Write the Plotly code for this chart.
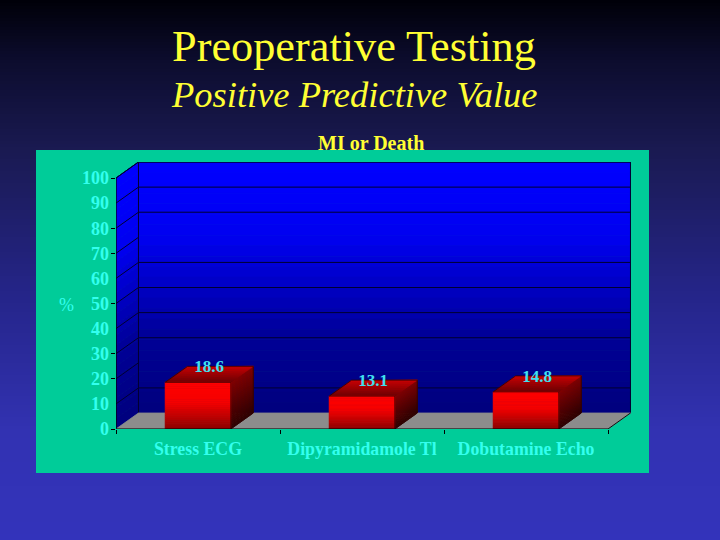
import plotly.graph_objects as go

categories = ["Stress ECG", "Dipyramidamole Tl", "Dobutamine Echo"]
values = [18.6, 13.1, 14.8]
y_ticks = [0, 10, 20, 30, 40, 50, 60, 70, 80, 90, 100]
y_tick_marks = [0, 20, 30, 50, 70, 80, 100]
back_grid = [10, 30, 40, 50, 60, 80, 90, 100]
side_grid = [10, 20, 30, 40, 50, 60, 70, 80, 90, 100]

# plot area in pixels
L, T, W, H = 116, 162, 515, 267
DX = 0.137   # depth in category units
DY = 6.37    # depth in y units
BAR_W = 0.4
SLICES = 24


def mix(stops, t):
    for (t0, c0), (t1, c1) in zip(stops, stops[1:]):
        if t <= t1:
            f = (t - t0) / (t1 - t0)
            r = [round(a + (b - a) * f) for a, b in zip(c0, c1)]
            return f"rgb({r[0]},{r[1]},{r[2]})"
    return "rgb(%d,%d,%d)" % tuple(stops[-1][1])


def px(x):
    return (x - L) / W


def py(y):
    return (T + H - y) / H


fig = go.Figure()


def poly(xs, ys, color):
    fig.add_trace(go.Scatter(x=xs + xs[:1], y=ys + ys[:1], mode="lines", fill="toself",
                             fillcolor=color, line=dict(color=color, width=0.8),
                             hoverinfo="skip", showlegend=False, cliponaxis=False))


def line(xs, ys, color="#000030", width=1):
    fig.add_trace(go.Scatter(x=xs, y=ys, mode="lines", line=dict(color=color, width=width),
                             hoverinfo="skip", showlegend=False, cliponaxis=False))


def quad(a, b, h, stops):
    # a, b are the bottom corners, h the height, sliced from top (t=0) to bottom (t=1)
    for i in range(SLICES):
        t0 = i / SLICES
        t1 = (i + 1) / SLICES
        h0 = h * (1 - t0)
        h1 = h * (1 - t1)
        poly([a[0], b[0], b[0], a[0]],
             [a[1] + h0, b[1] + h0, b[1] + h1, a[1] + h1],
             mix(stops, (t0 + t1) / 2))


wall = [(0, (0, 0, 255)), (0.3, (0, 0, 240)), (0.7, (0, 0, 150)), (1, (0, 0, 125))]
front = [(0, (255, 0, 0)), (0.45, (245, 0, 0)), (1, (140, 0, 0))]
side = [(0, (130, 0, 0)), (1, (45, 0, 0))]

# walls
quad((DX, DY), (3 + DX, DY), 100, wall)
for i in range(SLICES):
    t0 = i / SLICES
    t1 = (i + 1) / SLICES
    poly([0, DX, DX, 0],
         [100 * (1 - t0), DY + 100 * (1 - t0), DY + 100 * (1 - t1), 100 * (1 - t1)],
         mix(wall, (t0 + t1) / 2))

# gridlines
for v in back_grid:
    line([DX, 3 + DX], [v + DY, v + DY])
for v in side_grid:
    line([0, DX], [v, v + DY])
line([DX, DX], [DY, 100 + DY])
line([0, DX, 3 + DX, 3 + DX], [100, 100 + DY, 100 + DY, DY])

# floor
poly([0, 3, 3 + DX, DX], [0, 0, DY, DY], "#8c8c8c")
line([3, 3 + DX], [0, DY], "#101010")

# bars
for i, v in enumerate(values):
    x0 = i + 0.5 - BAR_W / 2
    x1 = i + 0.5 + BAR_W / 2
    # side face
    quad((x1, 0), (x1 + DX, DY), v, side)
    # top face, dark at the front edge and brighter towards the back
    for s in range(SLICES):
        t0 = s / SLICES
        t1 = (s + 1) / SLICES
        poly([x0 + DX * t0, x1 + DX * t0, x1 + DX * t1, x0 + DX * t1],
             [v + DY * t0, v + DY * t0, v + DY * t1, v + DY * t1],
             mix([(0, (110, 0, 0)), (1, (205, 0, 0))], (t0 + t1) / 2))
    # front face
    quad((x0, 0), (x1, 0), v, front)
    line([x0, x0 + DX, x1 + DX, x1 + DX, x1, x1, x0],
         [v, v + DY, v + DY, DY, 0, v, v], "#300000", 0.8)

# value labels
fig.add_trace(go.Scatter(
    x=[i + 0.5 + DX / 2 for i in range(len(values))],
    y=[v + DY - 0.7 for v in values],
    mode="text",
    text=[f"<b>{v}</b>" for v in values],
    textposition="middle center",
    textfont=dict(family="Liberation Serif", size=17, color="#40e0f0"),
    hoverinfo="skip", showlegend=False, cliponaxis=False,
))

# axis lines
line([0, 3], [0, 0], "#000000", 1.2)
line([0, 0], [0, 100], "#000000", 1.2)

# page gradient and teal panel
bg = [(0, (0, 0, 8)), (0.11, (12, 12, 45)), (0.28, (26, 26, 82)), (0.55, (37, 37, 138)),
      (0.8, (50, 50, 178)), (1, (51, 51, 187))]
shapes = []
for i in range(180):
    y0 = i * 3
    shapes.append(dict(type="rect", xref="paper", yref="paper", layer="below",
                       x0=px(0), x1=px(720), y0=py(y0), y1=py(y0 + 3.5),
                       fillcolor=mix(bg, (y0 + 1.5) / 540), line_width=0))
shapes.append(dict(type="rect", xref="paper", yref="paper", layer="below",
                   x0=px(36), x1=px(649), y0=py(150), y1=py(473),
                   fillcolor="#00cc99", line_width=0))

serif = "Liberation Serif"
annotations = [
    dict(text="Preoperative Testing", x=px(353.5), y=py(46),
         font=dict(family=serif, size=44.3, color="#ffff33")),
    dict(text="<i>Positive Predictive Value</i>", x=px(354), y=py(94),
         font=dict(family=serif, size=36.5, color="#ffff33")),
    dict(text="<b>MI or Death</b>", x=px(371), y=py(143),
         font=dict(family=serif, size=20, color="#ffff33")),
    dict(text="%", x=px(66), y=py(305),
         font=dict(family=serif, size=18, color="#33ffee")),
]
for a in annotations:
    a.update(xref="paper", yref="paper", xanchor="center", yanchor="middle", showarrow=False)

fig.update_layout(
    width=720,
    height=540,
    autosize=False,
    margin=dict(l=L, r=720 - L - W, t=T, b=540 - T - H, pad=0),
    paper_bgcolor="#1a1a52",
    plot_bgcolor="rgba(0,0,0,0)",
    shapes=shapes,
    annotations=annotations,
    xaxis=dict(
        range=[0, W / 164], showgrid=False, zeroline=False, showline=False,
        tickmode="array", tickvals=[0.5, 1.5, 2.5], ticktext=[f"<b>{c}</b>" for c in categories],
        ticks="", ticklabelstandoff=7,
        tickfont=dict(family=serif, size=17.8, color="#33ffee"),
        minor=dict(tickmode="array", tickvals=[0, 1, 2, 3], ticks="outside", ticklen=4,
                   tickcolor="#000000", tickwidth=1, showgrid=False),
    ),
    yaxis=dict(
        range=[0, H / 2.51], showgrid=False, zeroline=False, showline=False,
        tickmode="array", tickvals=y_ticks, ticks="", ticklabelstandoff=6,
        tickfont=dict(family=serif, size=18, color="#33ffee", weight="bold"),
        minor=dict(tickmode="array", tickvals=y_tick_marks, ticks="outside", ticklen=4,
                   tickcolor="#000000", tickwidth=1, showgrid=False),
    ),
)

fig.write_html("out.html", config={"displayModeBar": False},
               post_script="document.body.style.margin='0';document.body.style.overflow='hidden';")
